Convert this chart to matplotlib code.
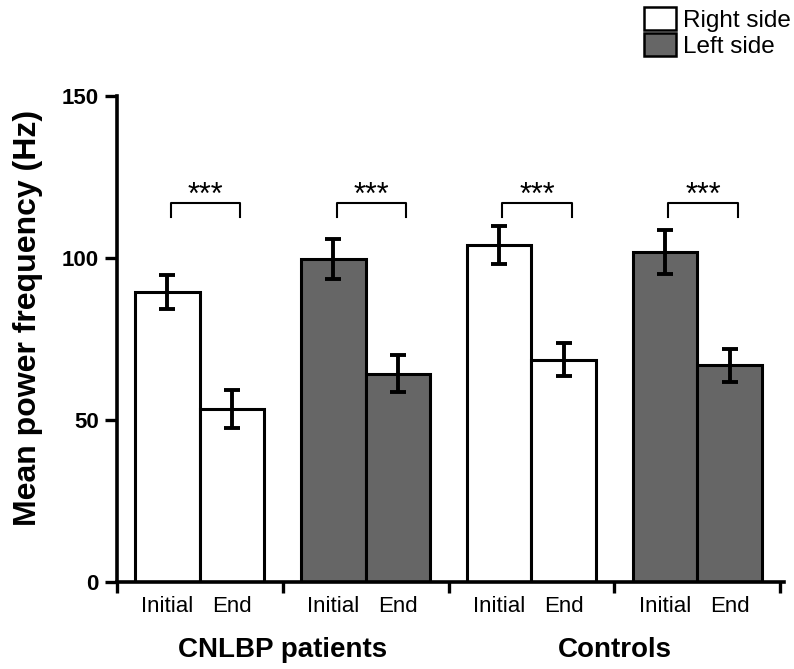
import numpy as np
import matplotlib.pyplot as plt
from matplotlib.patches import Patch

plt.rcParams['font.family'] = ['Liberation Sans', 'DejaVu Sans']

# bar data, in drawing order (CNLBP right, CNLBP left, Controls right, Controls left)
sides = ["Right side", "Left side", "Right side", "Left side"]
initial = [89.5, 99.6, 104.0, 101.8]
initial_err = [5.3, 6.2, 5.8, 6.7]
end = [53.3, 64.3, 68.5, 66.8]
end_err = [5.9, 5.6, 5.1, 5.1]
groups = ["CNLBP patients", "Controls"]
cond_labels = ["Initial", "End"]
sig = ["***", "***", "***", "***"]

face = {"Right side": "white", "Left side": "#666666"}

fig = plt.figure(figsize=(7.94, 6.69), dpi=100)
ax = fig.add_axes([0.147, 0.13, 0.84, 0.727])

w = 0.39
lw = 2.2
centers = np.arange(len(initial)) + 0.5
xi = centers - w / 2
xe = centers + w / 2
colors = [face[s] for s in sides]

ax.bar(xi, initial, width=w, color=colors, edgecolor="black", linewidth=lw, zorder=2)
ax.bar(xe, end, width=w, color=colors, edgecolor="black", linewidth=lw, zorder=2)
ax.errorbar(xi, initial, yerr=initial_err, fmt="none", ecolor="black",
            elinewidth=2.8, capsize=6, capthick=2.8, zorder=3)
ax.errorbar(xe, end, yerr=end_err, fmt="none", ecolor="black",
            elinewidth=2.8, capsize=6, capthick=2.8, zorder=3)

# significance brackets
for k in range(len(initial)):
    x0, x1 = xi[k] + 0.02, xe[k] + 0.05
    yb, yl = 117, 112.5
    ax.plot([x0, x0, x1, x1], [yl, yb, yb, yl], color="black", lw=1.5)
    ax.text((x0 + x1) / 2, 116.5, sig[k], ha="center", va="baseline", fontsize=22)

ax.set_xlim(0, 4.02)
ax.set_ylim(0, 150)
ax.set_yticks([0, 50, 100, 150])
ax.tick_params(axis="y", direction="out", length=9, width=2.4, labelsize=16, pad=4)
for t in ax.get_yticklabels():
    t.set_fontweight("bold")

ax.set_xticks([0, 1, 2, 3, 4])
ax.set_xticklabels([])
ax.tick_params(axis="x", which="major", direction="out", length=8, width=2.4)
ax.set_xticks(np.concatenate([xi, xe]), minor=True)
ax.set_xticklabels(cond_labels[:1] * len(xi) + cond_labels[1:] * len(xe), minor=True)
ax.tick_params(axis="x", which="minor", length=0, labelsize=16, pad=10)

for s in ["top", "right"]:
    ax.spines[s].set_visible(False)
for s in ["left", "bottom"]:
    ax.spines[s].set_linewidth(2.6)

ax.set_ylabel("Mean power frequency (Hz)", fontsize=23, fontweight="bold")
ax.yaxis.set_label_coords(-0.11, 0.543)

for gi, g in enumerate(groups):
    ax.text(1 + 2 * gi, -0.14, g, transform=ax.get_xaxis_transform(),
            ha="center", va="center", fontsize=20, fontweight="bold")

handles = [Patch(facecolor=face[s], edgecolor="black", linewidth=1.8, label=s)
           for s in ["Right side", "Left side"]]
fig.legend(handles=handles, loc="upper right", bbox_to_anchor=(1.021, 1.018),
           frameon=False, fontsize=17.5, handlelength=1.3, handleheight=1.05,
           handletextpad=0.3, labelspacing=0.05, borderpad=0.3)

fig.savefig("out.png", dpi=100)
